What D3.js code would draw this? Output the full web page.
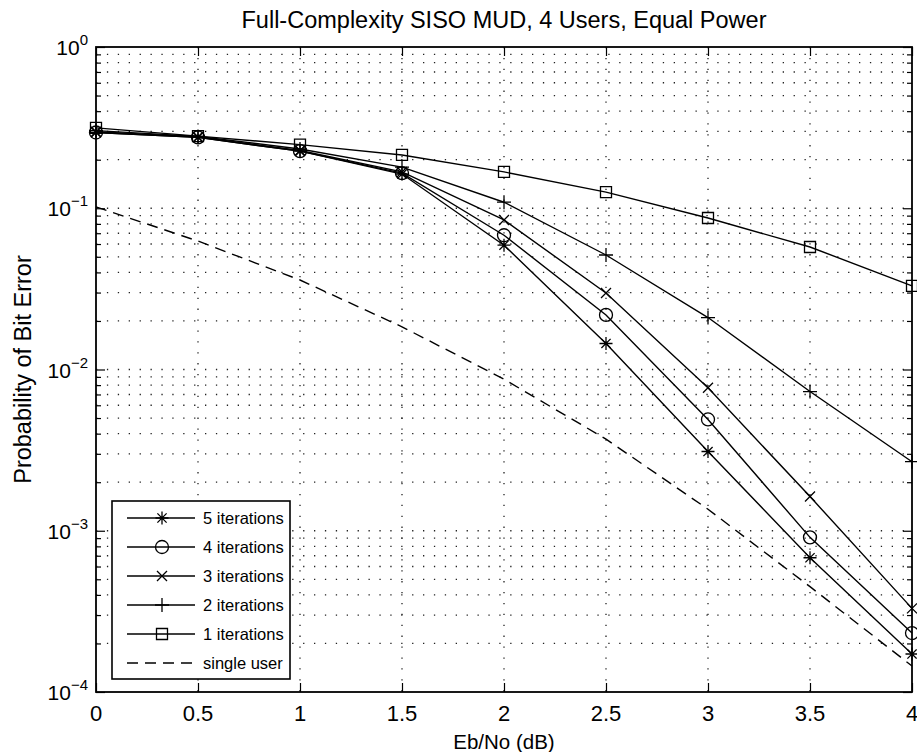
<!DOCTYPE html>
<html>
<head>
<meta charset="utf-8">
<script src="https://cdn.jsdelivr.net/npm/d3@7"></script>
<style>
  body { margin: 0; background: #fff; }
  text { font-family: "Liberation Sans", Arial, sans-serif; fill: #000; }
</style>
</head>
<body>
<div class="chart"></div>
<script>
// values (Eb/No in dB, bit error probability)
var ebno = [0, 0.5, 1, 1.5, 2, 2.5, 3, 3.5, 4];
var iter5 = [0.295, 0.275, 0.226, 0.163, 0.059, 0.0145, 0.0031, 0.00068, 0.000172];
var iter4 = [0.295, 0.275, 0.226, 0.165, 0.068, 0.0218, 0.0049, 0.00091, 0.000232];
var iter3 = [0.298, 0.277, 0.228, 0.168, 0.0846, 0.0298, 0.0077, 0.00163, 0.00033];
var iter2 = [0.303, 0.279, 0.233, 0.18, 0.109, 0.0513, 0.021, 0.0073, 0.00268];
var iter1 = [0.315, 0.28, 0.248, 0.214, 0.168, 0.126, 0.087, 0.0575, 0.033];
var singleUser = [0.102, 0.0626, 0.0359, 0.0184, 0.0087, 0.0037, 0.00136, 0.00045, 0.000145];

var seriesNames = ["5 iterations", "4 iterations", "3 iterations", "2 iterations", "1 iterations", "single user"];
var seriesMarkers = ["star", "circle", "x", "plus", "square", "none"];
var xTicks = [0, 0.5, 1, 1.5, 2, 2.5, 3, 3.5, 4];
var yExponents = [0, -1, -2, -3, -4];

var titleText = "Full-Complexity SISO MUD, 4 Users, Equal Power";
var xLabel = "Eb/No (dB)";
var yLabel = "Probability of Bit Error";

// set the dimensions and margins of the graph
var W = 917, H = 752;
var margin = {top: 47, right: 5, bottom: 60, left: 96},
  width = W - margin.left - margin.right,
  height = H - margin.top - margin.bottom;

var svg = d3.select(".chart")
  .append("svg")
    .attr("width", W)
    .attr("height", H);

var x = d3.scaleLinear().domain([0, 4]).range([margin.left, margin.left + width]);
var y = d3.scaleLog().domain([1e-4, 1]).range([margin.top + height, margin.top]);

var allYTicks = y.ticks();
var majorY = yExponents.map(function(e) { return Math.pow(10, e); });
var minorY = allYTicks.filter(function(v) {
  return Math.abs(Math.log10(v) - Math.round(Math.log10(v))) > 1e-6;
});

// dotted grid
var grid = svg.append("g")
  .attr("stroke", "#222")
  .attr("stroke-width", 1.3)
  .attr("stroke-dasharray", "1.3,9.6");

grid.selectAll(".gx")
  .data(xTicks.slice(1, -1))
  .enter().append("line")
    .attr("x1", function(d) { return x(d); })
    .attr("x2", function(d) { return x(d); })
    .attr("y1", margin.top)
    .attr("y2", margin.top + height);

grid.selectAll(".gy")
  .data(allYTicks.filter(function(v) { return v > 1e-4 && v < 1; }))
  .enter().append("line")
    .attr("x1", margin.left)
    .attr("x2", margin.left + width)
    .attr("y1", function(d) { return y(d); })
    .attr("y2", function(d) { return y(d); });

// axes with inward ticks on all four sides
function styleAxis(g) {
  g.select(".domain").remove();
  g.selectAll("line").attr("stroke", "#000").attr("stroke-width", 1.2);
}

svg.append("g")
  .attr("transform", "translate(0," + (margin.top + height) + ")")
  .call(d3.axisBottom(x).tickValues(xTicks).tickSize(-9).tickFormat(""))
  .call(styleAxis);
svg.append("g")
  .attr("transform", "translate(0," + margin.top + ")")
  .call(d3.axisTop(x).tickValues(xTicks).tickSize(-9).tickFormat(""))
  .call(styleAxis);
svg.append("g")
  .attr("transform", "translate(" + margin.left + ",0)")
  .call(d3.axisLeft(y).tickValues(majorY).tickSize(-9).tickFormat(""))
  .call(styleAxis);
svg.append("g")
  .attr("transform", "translate(" + margin.left + ",0)")
  .call(d3.axisLeft(y).tickValues(minorY).tickSize(-5).tickFormat(""))
  .call(styleAxis);
svg.append("g")
  .attr("transform", "translate(" + (margin.left + width) + ",0)")
  .call(d3.axisRight(y).tickValues(majorY).tickSize(-9).tickFormat(""))
  .call(styleAxis);
svg.append("g")
  .attr("transform", "translate(" + (margin.left + width) + ",0)")
  .call(d3.axisRight(y).tickValues(minorY).tickSize(-5).tickFormat(""))
  .call(styleAxis);

// frame
svg.append("rect")
  .attr("x", margin.left)
  .attr("y", margin.top)
  .attr("width", width)
  .attr("height", height)
  .attr("fill", "none")
  .attr("stroke", "#000")
  .attr("stroke-width", 1.8);

// x tick labels
svg.selectAll(".xl")
  .data(xTicks)
  .enter().append("text")
    .attr("x", function(d) { return x(d); })
    .attr("y", margin.top + height + 29)
    .attr("text-anchor", "middle")
    .attr("font-size", "22px")
    .text(function(d) { return d; });

// y tick labels, 10^n
var yl = svg.selectAll(".yl")
  .data(yExponents)
  .enter().append("text")
    .attr("x", margin.left - 8)
    .attr("y", function(d) { return y(Math.pow(10, d)) + 8; })
    .attr("text-anchor", "end")
    .attr("font-size", "21px");
yl.append("tspan").text("10");
yl.append("tspan")
  .attr("dy", -10)
  .attr("font-size", "15px")
  .text(function(d) { return d === 0 ? "0" : "\u2212" + (-d); });

// title and axis labels
svg.append("text")
  .attr("x", margin.left + width / 2)
  .attr("y", 28)
  .attr("text-anchor", "middle")
  .attr("font-size", "23.5px")
  .text(titleText);

svg.append("text")
  .attr("x", margin.left + width / 2)
  .attr("y", 749)
  .attr("text-anchor", "middle")
  .attr("font-size", "20.5px")
  .text(xLabel);

svg.append("text")
  .attr("transform", "translate(31," + (margin.top + height / 2) + ") rotate(-90)")
  .attr("text-anchor", "middle")
  .attr("font-size", "23.5px")
  .text(yLabel);

// markers
function markerPath(type) {
  switch (type) {
    case "star": return "M-6.5,0H6.5M0,-6.5V6.5M-4.6,-4.6L4.6,4.6M-4.6,4.6L4.6,-4.6";
    case "circle": return "M-6.5,0A6.5,6.5 0 1,0 6.5,0A6.5,6.5 0 1,0 -6.5,0Z";
    case "x": return "M-5,-5L5,5M-5,5L5,-5";
    case "plus": return "M-7,0H7M0,-7V7";
    case "square": return "M-5.5,-5.5H5.5V5.5H-5.5Z";
  }
  return "";
}

var series = [iter5, iter4, iter3, iter2, iter1, singleUser];

var line = d3.line()
  .x(function(d, i) { return x(ebno[i]); })
  .y(function(d) { return y(d); });

series.forEach(function(vals, k) {
  svg.append("path")
    .datum(vals)
    .attr("d", line)
    .attr("fill", "none")
    .attr("stroke", "#000")
    .attr("stroke-width", 1.4)
    .attr("stroke-dasharray", seriesMarkers[k] === "none" ? "11,7" : null);

  if (seriesMarkers[k] !== "none") {
    svg.selectAll(".m" + k)
      .data(vals)
      .enter().append("path")
        .attr("transform", function(d, i) { return "translate(" + x(ebno[i]) + "," + y(d) + ")"; })
        .attr("d", markerPath(seriesMarkers[k]))
        .attr("fill", "none")
        .attr("stroke", "#000")
        .attr("stroke-width", 1.3);
  }
});

// legend
var lg = svg.append("g").attr("transform", "translate(112,501)");
lg.append("rect")
  .attr("width", 178)
  .attr("height", 178)
  .attr("fill", "#fff")
  .attr("stroke", "#000")
  .attr("stroke-width", 1.6);

var item = lg.selectAll(".item")
  .data(seriesNames)
  .enter().append("g")
    .attr("transform", function(d, i) { return "translate(0," + (17 + i * 29) + ")"; });

item.append("line")
  .attr("x1", 15)
  .attr("x2", 83)
  .attr("stroke", "#000")
  .attr("stroke-width", 1.4)
  .attr("stroke-dasharray", function(d, i) { return seriesMarkers[i] === "none" ? "11,7" : null; });

item.append("path")
  .attr("transform", "translate(50,0)")
  .attr("d", function(d, i) { return markerPath(seriesMarkers[i]); })
  .attr("fill", "none")
  .attr("stroke", "#000")
  .attr("stroke-width", 1.3);

item.append("text")
  .attr("x", 91)
  .attr("y", 6)
  .attr("font-size", "16.5px")
  .text(function(d) { return d; });
</script>
</body>
</html>
